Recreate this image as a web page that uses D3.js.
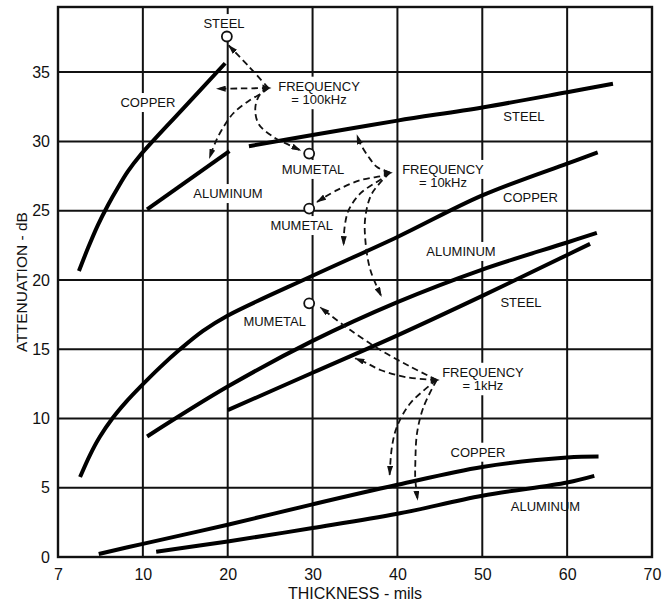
<!DOCTYPE html>
<html>
<head>
  <meta charset="UTF-8">
  <title>Attenuation vs thickness</title>
  <script src="https://d3js.org/d3.v7.min.js"></script>
  <style>
    body { margin: 0; background: #fff; }
    svg { display: block; font-family: "Liberation Sans", Arial, Helvetica, sans-serif; }
    .grid line { stroke: #111; stroke-width: 2; }
    .frame { fill: none; stroke: #111; stroke-width: 2.4; }
    .curve { fill: none; stroke: #000; stroke-width: 4; }
    .arrow { fill: none; stroke: #111; stroke-width: 1.8; stroke-dasharray: 6.5,4; }
    .dot { fill: #fff; stroke: #111; stroke-width: 1.8; }
    .lbl { font-size: 13px; fill: #111; }
    .axis text { font-size: 16px; fill: #111; font-family: "Liberation Sans", Arial, sans-serif; }
    .title { font-size: 16px; fill: #111; }
  </style>
</head>
<body>
<svg width="672" height="606"></svg>
<script>
var xTicks = [7, 10, 20, 30, 40, 50, 60, 70]
var yTicks = [0, 5, 10, 15, 20, 25, 30, 35]
var yTop = 39.7

// 100 kHz
var copper100k = [[7.74, 20.64], [8.06, 22.3], [8.41, 23.96], [8.77, 25.41], [9.12, 26.67], [9.47, 27.83], [9.9, 28.98], [14.66, 32.31], [19.7, 35.64]]
var aluminum100k = [[10.5, 25.1], [20.2, 29.3]]
var steel100k = [[22.5, 29.65], [30, 30.46], [40, 31.5], [50, 32.45], [60, 33.55], [65.4, 34.16]]
// 10 kHz
var copper10k = [[7.78, 5.77], [8.13, 7.36], [8.48, 8.68], [8.94, 10.05], [9.4, 11.18], [9.9, 12.26], [12.02, 13.69], [14.38, 14.99], [17.09, 16.32], [19.92, 17.4], [30, 20.3], [40, 23.1], [50, 26.1], [60, 28.4], [63.6, 29.2]]
var aluminum10k = [[10.5, 8.7], [20, 12.3], [30, 15.6], [40, 18.4], [50, 20.75], [60, 22.7], [63.5, 23.4]]
var steel10k = [[20, 10.6], [30, 13.3], [40, 16.0], [50, 18.85], [60, 21.8], [62.7, 22.6]]
// 1 kHz
var copper1k = [[8.44, 0.22], [10, 0.95], [20, 2.33], [30, 3.8], [40, 5.21], [50, 6.5], [60, 7.18], [63.7, 7.25]]
var aluminum1k = [[11.57, 0.38], [20, 1.12], [30, 2.09], [40, 3.12], [50, 4.42], [60, 5.38], [63.2, 5.86]]

// single points (steel 100kHz, mumetal)
var points = [[19.9, 37.57], [29.6, 29.12], [29.6, 25.15], [29.6, 18.31]]

// dashed pointers from each frequency note
var hub100k = [24.8, 33.85]
var hub10k = [39.1, 27.74]
var hub1k = [44.63, 12.78]
var arrows100k = [
  [[22.5, 35.4], [20.12, 36.93]],
  [[21.5, 33.82], [18.7, 33.8]],
  [[24.0, 33.47], [22.63, 32.99], [20.66, 32.03], [19.29, 30.82], [18.5, 29.86], [17.85, 28.8]],
  [[23.85, 33.44], [23.26, 32.48], [23.62, 31.28], [25.38, 30.32], [27.74, 29.6], [28.56, 29.36]]
]
var arrows10k = [
  [[37.6, 28.15], [36.61, 28.87], [35.63, 29.84], [35.24, 30.44]],
  [[38.58, 27.56], [35.63, 27.2], [32.88, 26.48], [30.53, 25.63]],
  [[38.19, 27.32], [35.63, 26.24], [34.25, 25.03], [33.78, 23.83], [33.66, 22.51]],
  [[37.0, 26.24], [36.22, 24.55], [36.22, 22.87], [36.81, 20.71], [38.1, 18.83]]
]
var arrows1k = [
  [[41.52, 13.74], [37.99, 14.94], [34.45, 16.38], [32.1, 17.46], [30.92, 18.02]],
  [[41.13, 12.97], [37.99, 13.5], [36.42, 13.98], [35.04, 14.34]],
  [[41.52, 11.1], [39.95, 9.41], [39.36, 7.97], [39.08, 5.93]],
  [[43.09, 10.85], [42.31, 8.94], [42.11, 6.78], [42.11, 5.57], [42.38, 4.13]]
]

var notes = [
  {t: ["STEEL"], x: 19.56, y: 38.18},
  {t: ["COPPER"], x: 10.6, y: 32.48},
  {t: ["FREQUENCY", "= 100kHz"], x: 30.76, y: 33.66},
  {t: ["MUMETAL"], x: 30.05, y: 27.65},
  {t: ["ALUMINUM"], x: 20.03, y: 25.91},
  {t: ["STEEL"], x: 54.91, y: 31.49},
  {t: ["FREQUENCY", "= 10kHz"], x: 45.37, y: 27.65},
  {t: ["COPPER"], x: 55.68, y: 25.65},
  {t: ["MUMETAL"], x: 28.72, y: 23.6},
  {t: ["ALUMINUM"], x: 47.49, y: 21.73},
  {t: ["STEEL"], x: 54.56, y: 18.07},
  {t: ["MUMETAL"], x: 25.54, y: 16.67},
  {t: ["FREQUENCY", "= 1kHz"], x: 50.08, y: 13.01},
  {t: ["COPPER"], x: 49.49, y: 7.24},
  {t: ["ALUMINUM"], x: 57.45, y: 3.34, keep: true}
]

var svg = d3.select("svg"),
    W = +svg.attr("width"),
    H = +svg.attr("height")
var m = {top: 7, right: 20, bottom: 49, left: 58}
var iw = W - m.left - m.right,
    ih = H - m.top - m.bottom

// evenly spaced thickness ticks (7, 10, 20 ... 70)
var x = d3.scaleLinear()
  .domain(xTicks)
  .range(xTicks.map(function(d, i) { return i * iw / (xTicks.length - 1) }))
var y = d3.scaleLinear().domain([0, yTop]).range([ih, 0])

svg.append("defs").append("marker")
  .attr("id", "head")
  .attr("viewBox", "0 0 10 6")
  .attr("refX", 9).attr("refY", 3)
  .attr("markerWidth", 10).attr("markerHeight", 6)
  .attr("markerUnits", "userSpaceOnUse")
  .attr("orient", "auto")
  .append("path").attr("d", "M0,0L10,3L0,6Z").attr("fill", "#111")

var g = svg.append("g").attr("transform", "translate(" + m.left + "," + m.top + ")")

var grid = g.append("g").attr("class", "grid")
grid.selectAll(".v").data(xTicks.slice(1, -1)).enter().append("line")
  .attr("class", "v")
  .attr("x1", x).attr("x2", x).attr("y1", 0).attr("y2", ih)
grid.selectAll(".h").data(yTicks.slice(1)).enter().append("line")
  .attr("class", "h")
  .attr("x1", 0).attr("x2", iw).attr("y1", y).attr("y2", y)

var knock = g.append("g")

g.append("rect").attr("class", "frame").attr("width", iw).attr("height", ih)

var line = d3.line()
  .x(function(d) { return x(d[0]) })
  .y(function(d) { return y(d[1]) })
  .curve(d3.curveCatmullRom.alpha(0.5))

g.append("g").selectAll("path")
  .data([copper100k, aluminum100k, steel100k, copper10k, aluminum10k, steel10k, copper1k, aluminum1k])
  .enter().append("path")
  .attr("class", "curve")
  .attr("d", line)

var groups = [[hub100k, arrows100k], [hub10k, arrows10k], [hub1k, arrows1k]]
var ag = g.append("g")
groups.forEach(function(grp) {
  var hub = grp[0]
  ag.selectAll(null).data(grp[1]).enter().append("path")
    .attr("class", "arrow")
    .attr("marker-end", "url(#head)")
    .attr("d", function(pts) { return line([hub].concat(pts)) })
  ag.append("path")
    .attr("transform", "translate(" + x(hub[0]) + "," + y(hub[1]) + ")")
    .attr("d", "M-6,-3.5L3,0L-6,3.5Z")
    .attr("fill", "#111")
})

g.append("g").selectAll("circle").data(points).enter().append("circle")
  .attr("class", "dot")
  .attr("cx", function(d) { return x(d[0]) })
  .attr("cy", function(d) { return y(d[1]) })
  .attr("r", 5)

// one text per line, so two-line notes stay separate
var rows = []
notes.forEach(function(n) {
  n.t.forEach(function(s, i) {
    rows.push({s: s, px: x(n.x), py: y(n.y) + i * 13.5, keep: n.keep})
  })
})

var labels = g.append("g").selectAll("text").data(rows).enter().append("text")
  .attr("class", "lbl")
  .attr("text-anchor", "middle")
  .attr("x", function(d) { return d.px })
  .attr("y", function(d) { return d.py })
  .text(function(d) { return d.s })

// white gaps in the grid behind the labels
labels.each(function(d) {
  if (d.keep) return
  var b = this.getBBox()
  knock.append("rect")
    .attr("x", b.x - 3).attr("y", b.y - 2)
    .attr("width", b.width + 6).attr("height", b.height + 4)
    .attr("fill", "#fff")
})

g.append("g")
  .attr("class", "axis")
  .attr("transform", "translate(0," + ih + ")")
  .call(d3.axisBottom(x).tickValues(xTicks).tickFormat(d3.format("d")).tickSize(0).tickPadding(12))
  .call(function(a) { a.select(".domain").remove() })

g.append("g")
  .attr("class", "axis")
  .call(d3.axisLeft(y).tickValues(yTicks).tickSize(0).tickPadding(8))
  .call(function(a) { a.select(".domain").remove() })

svg.append("text")
  .attr("class", "title")
  .attr("text-anchor", "middle")
  .attr("x", m.left + iw / 2)
  .attr("y", 599)
  .text("THICKNESS - mils")

svg.append("text")
  .attr("class", "title")
  .attr("text-anchor", "middle")
  .attr("transform", "translate(26.5," + (m.top + ih / 2) + ") rotate(-90)")
  .style("font-size", "15.5px")
  .text("ATTENUATION - dB")
</script>
</body>
</html>
